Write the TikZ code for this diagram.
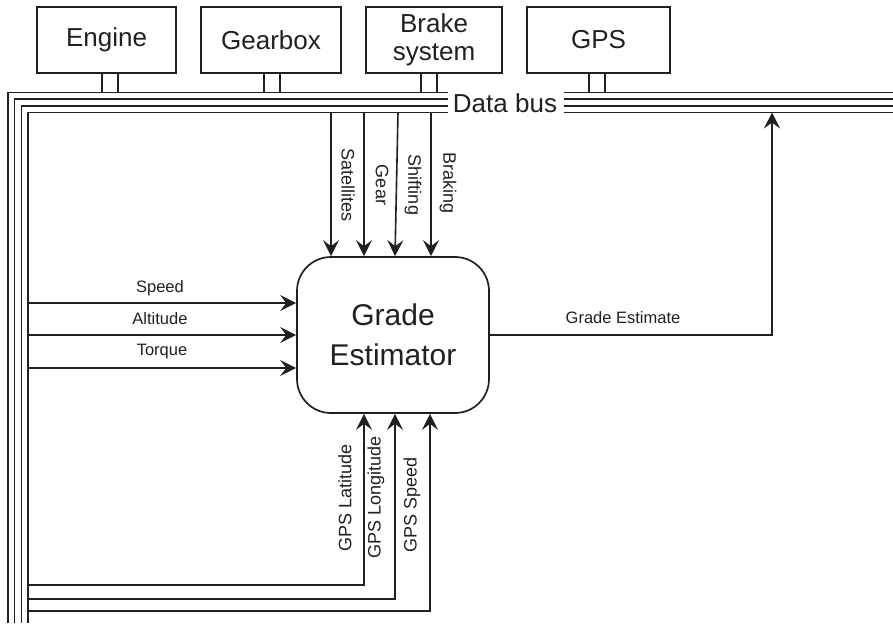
\documentclass[tikz,border=0pt]{standalone}
\usepackage{fontspec}
\setmainfont{Liberation Sans}
\usetikzlibrary{arrows.meta}
\definecolor{ink}{HTML}{231F20}
\begin{document}
\begin{tikzpicture}[x=1pt,y=-1pt,color=ink,
  dev/.style={draw=ink, line width=1.7pt, inner sep=0pt, align=center,
    minimum height=66pt, font=\fontsize{26}{28}\selectfont},
  arr/.style={draw=ink, line width=1.6pt, -{Stealth[length=16pt,width=16pt,inset=6pt]}},
  wire/.style={draw=ink, line width=1.6pt},
  bus/.style={draw=ink, line width=1.7pt},
  lbl/.style={font=\fontsize{16.5}{18}\selectfont, text=ink, inner sep=0pt},
  vlbl/.style={font=\fontsize{18}{20}\selectfont, text=ink, inner sep=0pt}]
\useasboundingbox (0,0) rectangle (893,623);

% devices
\node[dev, minimum width=139pt] (engine) at (106.5,40) {Engine};
\node[dev, minimum width=140pt] (gearbox) at (271,40) {Gearbox};
\node[dev, minimum width=136pt] (brake) at (434,40) {Brake\\system};
\node[dev, minimum width=143pt] (gps) at (598.5,40) {GPS};

% data bus
\foreach \x/\y in {8/92.5, 14.5/99, 21.5/106, 28/112.5}{
  \draw[bus] (\x,623) -- (\x,\y) -- (448,\y);
  \draw[bus] (564,\y) -- (893,\y);
}
\node[font=\fontsize{26}{28}\selectfont, inner sep=0pt] (busl) at (505,103) {Data bus};

% stubs
\draw[wire] ([xshift=-4.5pt]engine.south) -- ++(0,19.5);
\draw[wire] ([xshift=11.5pt]engine.south) -- ++(0,19.5);
\draw[wire] ([xshift=-7pt]gearbox.south) -- ++(0,19.5);
\draw[wire] ([xshift=9pt]gearbox.south) -- ++(0,19.5);
\draw[wire] ([xshift=-13pt]brake.south) -- ++(0,19.5);
\draw[wire] ([xshift=3pt]brake.south) -- ++(0,19.5);
\draw[wire] ([xshift=-9.5pt]gps.south) -- ++(0,19.5);
\draw[wire] ([xshift=6.5pt]gps.south) -- ++(0,19.5);

% estimator
\node[draw=ink, line width=1.7pt, rounded corners=34pt, minimum width=192pt,
  minimum height=156pt, inner sep=0pt, align=center,
  font=\fontsize{30}{40}\selectfont] (ge) at (393,335) {Grade\\Estimator};

% top inputs
\coordinate (sat) at (331,112.5);
\coordinate (gear) at (364,112.5);
\coordinate (shf) at (398,112.5);
\coordinate (brk) at (431,112.5);
\draw[arr] (sat) -- (sat |- ge.north);
\draw[arr] (gear) -- (gear |- ge.north);
\draw[arr] (shf) -- ([xshift=-3pt]shf |- ge.north);
\draw[arr] (brk) -- (brk |- ge.north);
\node[vlbl, rotate=-90] at (348,185) {Satellites};
\node[vlbl, rotate=-90] at (382,185) {Gear};
\node[vlbl, rotate=-90] at (413,185) {Shifting};
\node[vlbl, rotate=-90] at (448,183) {Braking};

% left inputs
\coordinate (spd) at (28,303);
\coordinate (alt) at (28,335);
\coordinate (trq) at (28,368);
\draw[arr] (spd) -- (spd -| ge.west);
\draw[arr] (alt) -- (alt -| ge.west);
\draw[arr] (trq) -- (trq -| ge.west);
\node[lbl] at (160,288) {Speed};
\node[lbl] at (160,319) {Altitude};
\node[lbl] at (162,352) {Torque};

% output
\coordinate (gbus) at (772,112.5);
\draw[arr] (ge.east) -- (ge.east -| gbus) -- (gbus);
\node[lbl] at (623,318) {Grade Estimate};

% bottom inputs
\coordinate (lat) at (28,585);
\coordinate (lon) at (28,599);
\coordinate (gsp) at (28,611);
\coordinate (latc) at (364,585);
\coordinate (lonc) at (395,599);
\coordinate (gspc) at (430,611);
\draw[arr] (lat) -- (latc) -- (latc |- ge.south);
\draw[arr] (lon) -- (lonc) -- (lonc |- ge.south);
\draw[arr] (gsp) -- (gspc) -- (gspc |- ge.south);
\node[vlbl, rotate=90] at (345,498) {GPS Latitude};
\node[vlbl, rotate=90] at (376,497) {GPS Longitude};
\node[vlbl, rotate=90] at (412,505) {GPS Speed};
\end{tikzpicture}
\end{document}
